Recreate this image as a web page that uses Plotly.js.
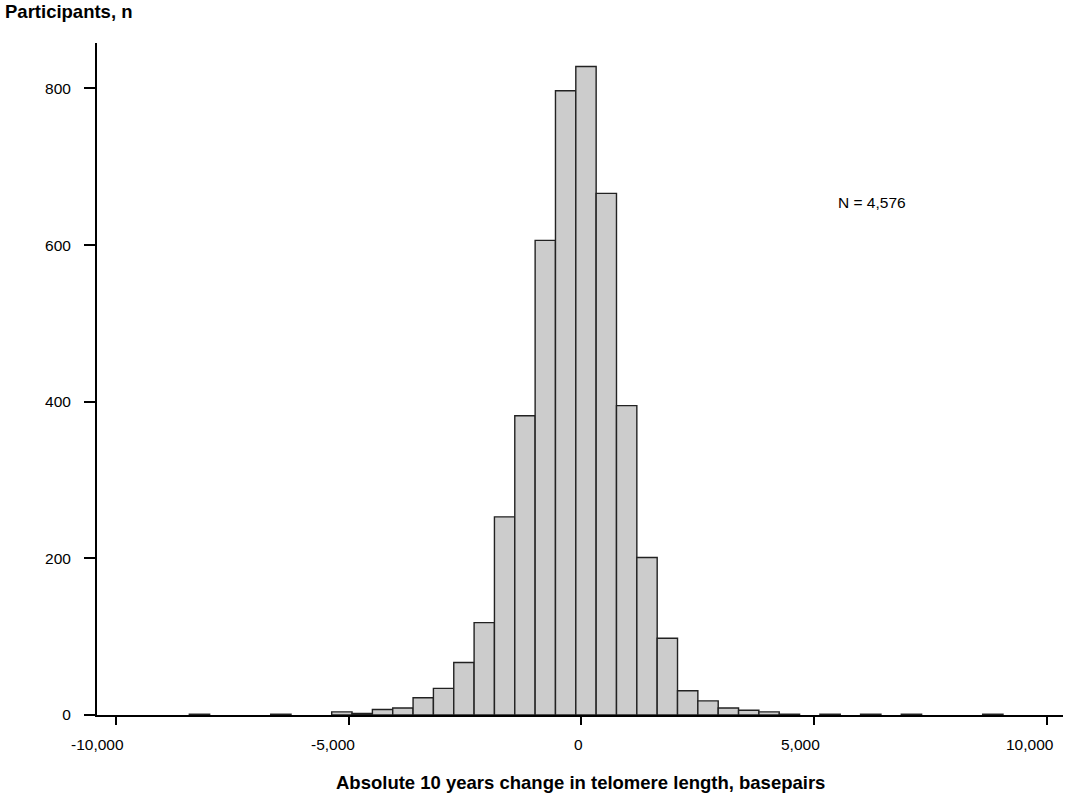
<!DOCTYPE html>
<html>
<head>
<meta charset="utf-8">
<script src="https://cdn.plot.ly/plotly-3.0.1.min.js"></script>
<style>
  html, body { margin: 0; padding: 0; background: #fff; }
  #chart { width: 1070px; height: 800px; }
</style>
</head>
<body>
<div id="chart"></div>
<script>
// Histogram of 10-year telomere length change (bins)
const binStart = -8425;   // left edge of first bin, basepairs
const binWidth = 437;
const counts = [
  1, 0, 0, 0, 1, 0, 0, 4, 2, 7,
  9, 22, 34, 67, 118, 253, 382, 606, 797, 828,
  666, 395, 201, 98, 31, 18, 9, 6, 4, 1,
  0, 1, 0, 1, 0, 1, 0, 0, 0, 1
];

const xTickVals = [-10000, -5000, 0, 5000, 10000];
const xTickText = ['-10,000', '-5,000', '0', '5,000', '10,000'];
const yTickVals = [0, 200, 400, 600, 800];

const xTitle = 'Absolute 10 years change in telomere length, basepairs';
const yTitle = 'Participants, n';
const nLabel = 'N = 4,576';

const FONT = 'Liberation Sans, Arial, Helvetica, sans-serif';
const TICK_SIZE = 15.5;

// keep only non-empty bins, centred on their bin
const binX = [], binY = [];
counts.forEach((c, i) => {
    if (c > 0) {
        binX.push(binStart + i * binWidth + binWidth / 2);
        binY.push(c);
    }
});

// rough text width, used to nudge x labels left like the original does
function textWidth(s) {
    let w = 0;
    for (const ch of s) w += ch === ',' ? 0.278 : ch === '-' ? 0.333 : 0.556;
    return w * TICK_SIZE;
}

const xLabelNotes = xTickVals.map((v, i) => ({
    text: xTickText[i], xref: 'x', yref: 'paper', x: v, y: 0,
    xanchor: 'center', yanchor: 'middle', showarrow: false,
    xshift: -0.35 * textWidth(xTickText[i]), yshift: -29.5,
    font: { family: FONT, size: TICK_SIZE, color: '#000' }
}));

const data = [{
    type: 'bar',
    x: binX,
    y: binY,
    width: binWidth,
    marker: { color: '#cccccc', line: { color: '#222222', width: 1.4 } },
    hoverinfo: 'x+y'
}];

const layout = {
    width: 1070,
    height: 800,
    margin: { l: 97, r: 7, t: 43, b: 84.5 },
    paper_bgcolor: '#ffffff',
    plot_bgcolor: '#ffffff',
    showlegend: false,
    font: { family: FONT, color: '#000', size: TICK_SIZE },
    xaxis: {
        range: [-10408, 10344],
        showgrid: false,
        zeroline: false,
        showline: true,
        linecolor: '#000',
        linewidth: 2,
        ticks: 'outside',
        ticklen: 8,
        tickwidth: 2,
        tickcolor: '#000',
        tickvals: xTickVals,
        showticklabels: false
    },
    yaxis: {
        range: [0, 858],
        showgrid: false,
        zeroline: false,
        showline: true,
        linecolor: '#000',
        linewidth: 2,
        ticks: 'outside',
        ticklen: 11,
        tickwidth: 2,
        tickcolor: '#000',
        tickvals: yTickVals,
        ticklabelstandoff: 10,
        ticklabeloverflow: 'allow',
        tickfont: { family: FONT, size: TICK_SIZE, color: '#000' }
    },
    annotations: [
        { text: '<b>' + yTitle + '</b>', xref: 'paper', yref: 'paper',
          x: -0.0975, y: 1.047, xanchor: 'left', yanchor: 'middle', showarrow: false,
          font: { family: FONT, size: 18.5, color: '#000' } },
        { text: '<b>' + xTitle + '</b>', xref: 'paper', yref: 'paper',
          x: 0.5, y: -0.101, xanchor: 'center', yanchor: 'middle', showarrow: false,
          font: { family: FONT, size: 18.5, color: '#000' } },
        { text: nLabel, xref: 'paper', yref: 'paper',
          x: 0.802, y: 0.763, xanchor: 'center', yanchor: 'middle', showarrow: false,
          font: { family: FONT, size: TICK_SIZE, color: '#000' } }
    ].concat(xLabelNotes)
};

Plotly.newPlot('chart', data, layout, { staticPlot: true, displayModeBar: false });
</script>
</body>
</html>
